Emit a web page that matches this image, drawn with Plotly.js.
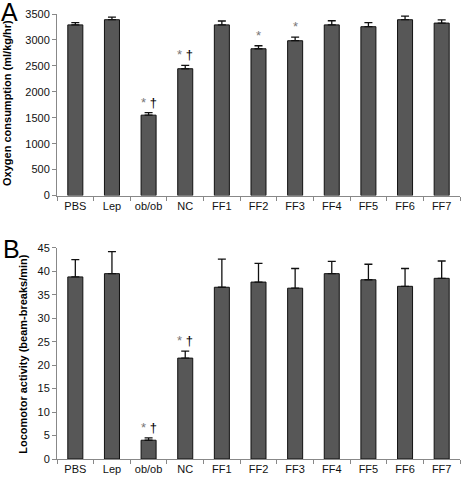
<!DOCTYPE html>
<html>
<head>
<meta charset="utf-8">
<script src="https://cdn.plot.ly/plotly-3.0.1.min.js"></script>
<style>html,body{margin:0;padding:0;background:#fff;}#chart{width:463px;height:481px;}</style>
</head>
<body>
<div id="chart"></div>
<script>
const categories = ["PBS", "Lep", "ob/ob", "NC", "FF1", "FF2", "FF3", "FF4", "FF5", "FF6", "FF7"];

const oxygenValues = [3290, 3390, 1550, 2445, 3290, 2830, 2985, 3290, 3255, 3390, 3325];
const oxygenErrors = [45, 50, 50, 65, 75, 58, 70, 80, 80, 70, 60];
const oxygenMarks = ["", "", "* †", "* †", "", "*", "*", "", "", "", ""];

const locoValues = [38.8, 39.5, 4.0, 21.5, 36.6, 37.7, 36.4, 39.5, 38.2, 36.8, 38.5];
const locoErrors = [3.7, 4.7, 0.5, 1.5, 6.0, 4.0, 4.2, 2.6, 3.3, 3.8, 3.7];
const locoMarks = ["", "", "* †", "* †", "", "", "", "", "", "", ""];

const oxyTicks = [0, 500, 1000, 1500, 2000, 2500, 3000, 3500];
const locoTicks = [0, 5, 10, 15, 20, 25, 30, 35, 40, 45];

const FONT = "Arial, 'Liberation Sans', sans-serif";
const barStyle = {color: "#575757", line: {color: "#111", width: 1}};
const errStyle = (arr) => ({type: "data", array: arr, arrayminus: arr.map(() => 0), symmetric: false,
  color: "#111", thickness: 1.3, width: 4});

const traces = [
  {type: "bar", x: categories, y: oxygenValues, error_y: errStyle(oxygenErrors),
   marker: barStyle, width: 0.41, xaxis: "x", yaxis: "y", hoverinfo: "none"},
  {type: "bar", x: categories, y: locoValues, error_y: errStyle(locoErrors),
   marker: barStyle, width: 0.41, xaxis: "x2", yaxis: "y2", hoverinfo: "none"}
];

// pixel helpers for plot area: left 57, width 403, bottom 459.3, height 445.3
const px = (p) => (p - 57) / 403;
const py = (p) => (459.3 - p) / 445.3;

const annotations = [];
function addMarks(marks, vals, errs, xr, yr) {
  marks.forEach((m, i) => {
    if (!m) return;
    const txt = m.replace("*", "<span style='color:#777'>*</span>");
    annotations.push({x: categories[i], y: vals[i] + errs[i], xref: xr, yref: yr,
      text: txt, showarrow: false, yanchor: "bottom", yshift: 1,
      font: {family: FONT, size: 13, color: "#000"}});
  });
}
addMarks(oxygenMarks, oxygenValues, oxygenErrors, "x", "y");
addMarks(locoMarks, locoValues, locoErrors, "x2", "y2");

annotations.push({text: "A", xref: "paper", yref: "paper", x: px(-1), y: py(12),
  xanchor: "left", yanchor: "middle", showarrow: false,
  font: {family: FONT, size: 25, color: "#000"}});
annotations.push({text: "B", xref: "paper", yref: "paper", x: px(1), y: py(249.5),
  xanchor: "left", yanchor: "middle", showarrow: false,
  font: {family: FONT, size: 25, color: "#000"}});

annotations.push({text: "<b>Oxygen consumption (ml/kg/hr)</b>", xref: "paper", yref: "paper",
  x: px(7), y: py(103), xanchor: "center", yanchor: "middle", textangle: -90, showarrow: false,
  font: {family: FONT, size: 11, color: "#000"}});
annotations.push({text: "<b>Locomotor activity (beam-breaks/min)</b>", xref: "paper", yref: "paper",
  x: px(23), y: py(354), xanchor: "center", yanchor: "middle", textangle: -90, showarrow: false,
  font: {family: FONT, size: 11, color: "#000"}});

const tickFont = {family: FONT, size: 11, color: "#111"};
const xAxisBase = {type: "category", showgrid: false, zeroline: false, showline: true,
  linecolor: "#888", linewidth: 1, ticks: "outside", tickson: "boundaries", ticklen: 4,
  tickcolor: "#888", tickfont: tickFont, range: [-0.5, 10.5], fixedrange: true};
const yAxisBase = {showgrid: false, zeroline: false, showline: true, linecolor: "#888",
  linewidth: 1, ticks: "outside", ticklen: 4, tickcolor: "#888", tickfont: tickFont, fixedrange: true};

const layout = {
  width: 463, height: 481,
  margin: {l: 57, r: 3, t: 14, b: 21.7},
  paper_bgcolor: "#fff", plot_bgcolor: "#fff",
  showlegend: false,
  xaxis: Object.assign({}, xAxisBase, {anchor: "y", domain: [0, 1]}),
  yaxis: Object.assign({}, yAxisBase, {anchor: "x", domain: [py(195.7), 1], range: [0, 3500],
    tickvals: oxyTicks, ticktext: oxyTicks.map(String)}),
  xaxis2: Object.assign({}, xAxisBase, {anchor: "y2", domain: [0, 1]}),
  yaxis2: Object.assign({}, yAxisBase, {anchor: "x2", domain: [0, py(248)], range: [0, 45],
    tickvals: locoTicks, ticktext: locoTicks.map(String)}),
  annotations: annotations
};

Plotly.newPlot("chart", traces, layout, {displayModeBar: false, staticPlot: true});
</script>
</body>
</html>
